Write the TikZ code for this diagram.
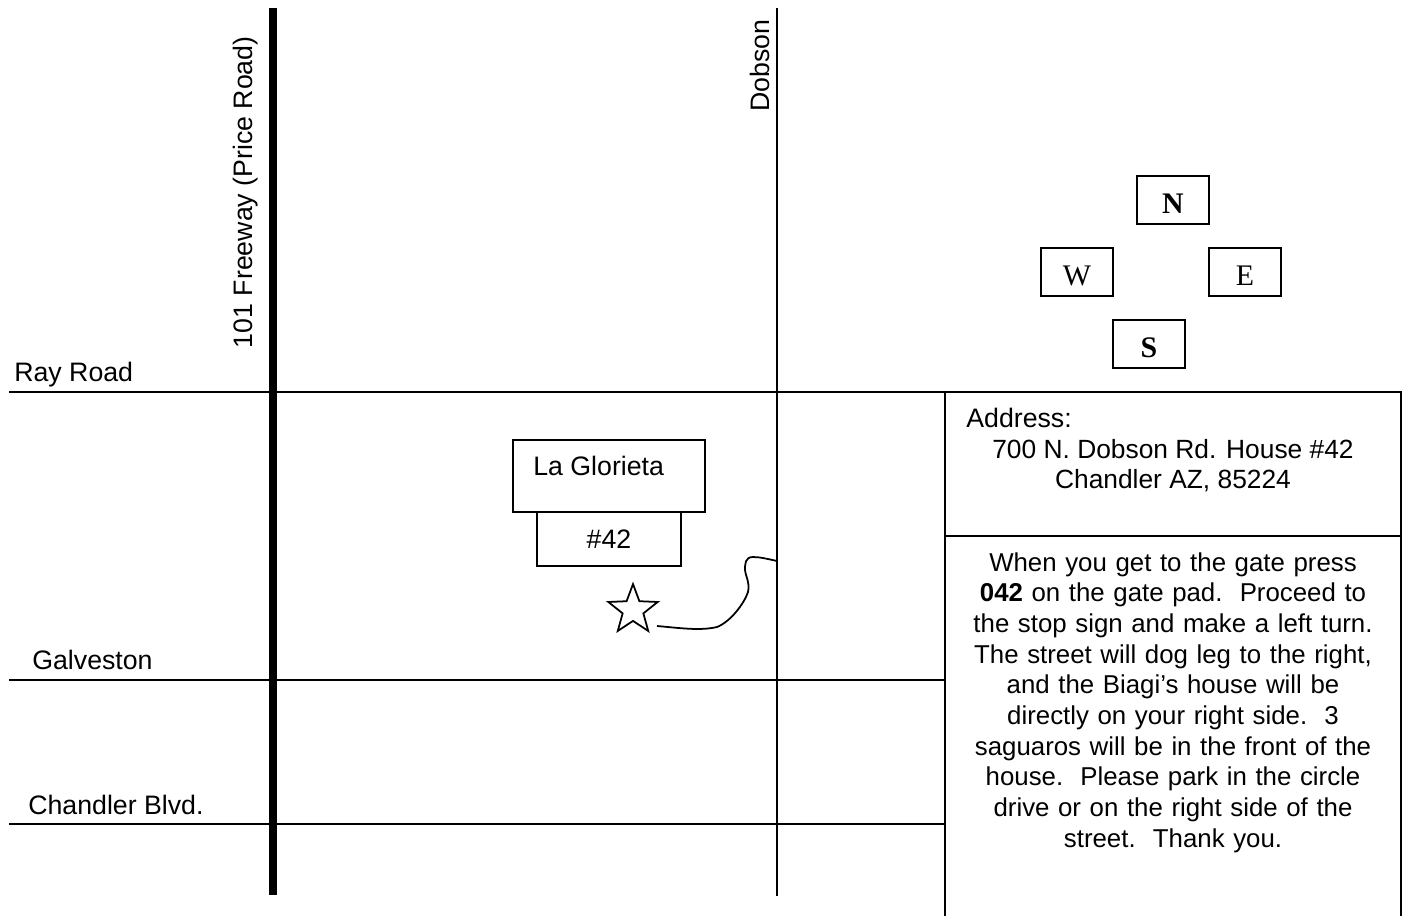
\documentclass[tikz,border=0pt]{standalone}
\usepackage{fontspec}
\setmainfont{Liberation Sans}
\newfontfamily\dirserif{Liberation Serif}
\usepackage{tikz}
\usetikzlibrary{positioning,shapes.geometric,calc}
\tikzset{
  road/.style={line width=1pt},
  freeway/.style={line width=4.5pt},
  maplabel/.style={inner sep=0pt,font=\fontsize{15.2}{17.6}\selectfont},
  dirbox/.style={draw,line width=1pt,minimum width=41pt,minimum height=27.5pt,inner sep=0pt,text height=15.8pt,text depth=0pt,font=\fontsize{17}{19}\dirserif},
  lotbox/.style={draw,line width=1pt,inner sep=0pt},
}
\begin{document}
\begin{tikzpicture}[x=0.02cm,y=-0.02cm]
  \useasboundingbox (0,0) rectangle (1408,916);
  %% roads
  \coordinate (rayw) at (9,392);
  \coordinate (raye) at (1065,392);
  \coordinate (galw) at (9,680);
  \coordinate (gale) at (945,680);
  \coordinate (chaw) at (9,824);
  \coordinate (chae) at (945,824);
  \coordinate (frn) at (273,8);
  \coordinate (frs) at (273,895);
  \coordinate (dobn) at (777,8);
  \coordinate (dobs) at (777,896);
  \draw[road] (rayw) -- (raye);
  \draw[road] (galw) -- (gale);
  \draw[road] (chaw) -- (chae);
  \draw[freeway] (frn) -- (frs);
  \draw[road] (dobn) -- (dobs);

  \node (ray)[maplabel,anchor=base west] at (14,381) {Ray Road};
  \node (gal)[maplabel,anchor=base west] at (32,669) {Galveston};
  \node (cha)[maplabel,anchor=base west] at (28,814) {Chandler Blvd.};
  \node (free)[maplabel,rotate=90,anchor=base east] at (252,36) {101 Freeway (Price Road)};
  \node (dob)[maplabel,rotate=90,anchor=base east] at (769,19) {Dobson};

  %% compass
  \node (n)[dirbox] at (1173,200) {\textbf{N}};
  \node (w)[dirbox] at (1077,272) {W};
  \node (e)[dirbox] at (1245,272) {E};
  \node (s)[dirbox] at (1149,344) {\textbf{S}};

  %% buildings
  \node (glor)[lotbox,minimum width=109pt,minimum height=41pt] at (609,476) {};
  \node (glortext)[maplabel,anchor=base west] at (533,475) {La Glorieta};
  \node (lot)[lotbox,minimum width=82pt,minimum height=30.7pt,below=-1pt of glor,font=\fontsize{15.2}{17.6}\selectfont] {\#42};
  \node (star)[draw,star,star points=5,star point ratio=2.38,minimum size=29.5pt,inner sep=0pt,line width=1pt] at (633,610) {};
  \coordinate (dobturn) at (777,561);
  \coordinate (startail) at (657,626);
  \draw[line width=1pt] (dobturn) .. controls (768,559) and (760,557) .. (753,557)
    .. controls (745,557) and (745,564) .. (745,570)
    .. controls (746,578) and (750,582) .. (748,592)
    .. controls (744,604) and (730,622) .. (717,627)
    .. controls (700,631) and (680,628) .. (startail);

  %% text boxes
  \coordinate (boxnw) at (945,392);
  \coordinate (boxne) at (1401,392);
  \coordinate (boxmw) at (945,536);
  \coordinate (boxme) at (1401,536);
  \coordinate (boxsw) at (945,916);
  \coordinate (boxse) at (1401,916);
  \draw[road] (boxsw) -- (boxnw) -- (boxne) -- (boxse);
  \draw[road] (boxmw) -- (boxme);
  \node (addrhead)[maplabel,anchor=base west] at (966,427) {Address:};
  \node (addr)[maplabel,anchor=north,align=center,font=\fontsize{15}{17.1}\selectfont] at (1173,439) {700 N. Dobson Rd. House \#42\\Chandler AZ, 85224};
  \node (howto)[maplabel,anchor=north,align=center,text width=270pt,font=\fontsize{14.7}{17.45}\selectfont] at (1173,552) {When you get to the gate press\\\textbf{042} on the gate pad.\ \ Proceed to\\the stop sign and make a left turn.\\The street will dog leg to the right,\\and the Biagi's house will be\\directly on your right side.\ \ 3\\saguaros will be in the front of the\\house.\ \ Please park in the circle\\drive or on the right side of the\\street.\ \ Thank you.};
\end{tikzpicture}
\end{document}
